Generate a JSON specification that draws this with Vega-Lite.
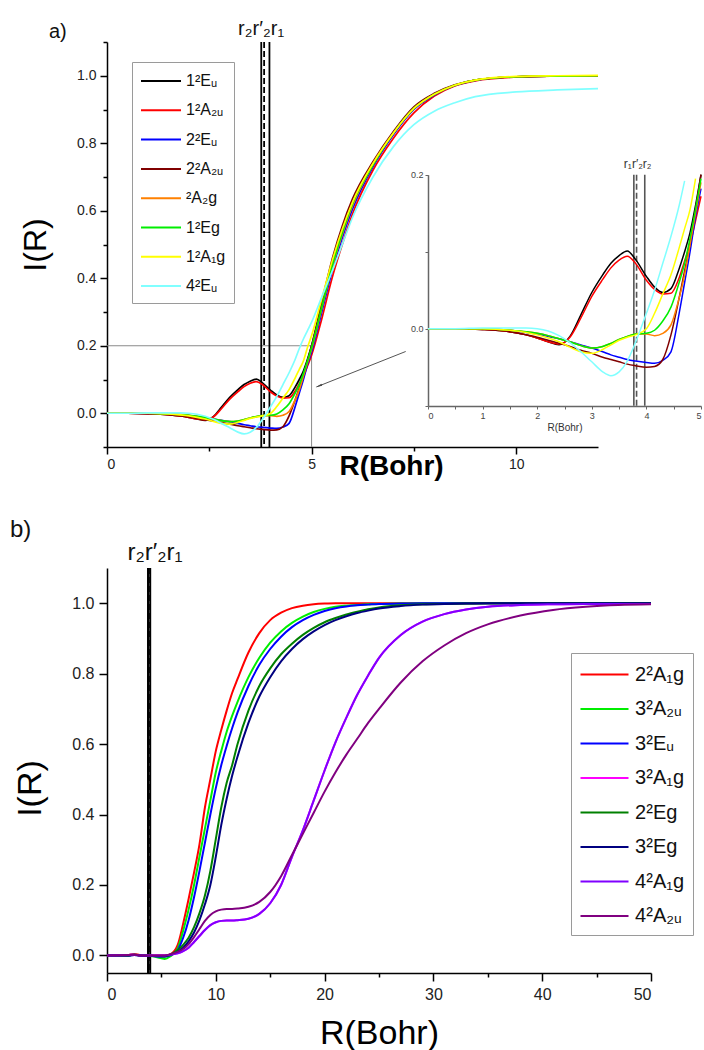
{
  "$schema": "https://vega.github.io/schema/vega-lite/v6.json",
  "padding": {"left": 10, "top": 19, "right": 0, "bottom": 0},
  "background": "white",
  "config": {
    "font": "Liberation Sans",
    "view": {"stroke": null},
    "axis": {"grid": false, "domainColor": "#000", "tickColor": "#000", "labelColor": "#222", "titleColor": "#111", "titleFontWeight": "normal", "labelFont": "Liberation Sans", "titleFont": "Liberation Sans", "domainWidth": 1.5, "tickWidth": 1.5, "labelOverlap": false},
    "title": {"fontWeight": "normal", "color": "#111", "font": "Liberation Sans"},
    "concat": {"spacing": 38}
  },
  "datasets": {
    "a": [
      {"R":0,"E1u":0,"A2u":0,"E2u":0,"B2u":0,"A2g":0,"E1g":0,"A1g":0,"E4u":0},
      {"R":0.5,"E1u":0,"A2u":0,"E2u":0,"B2u":0,"A2g":0,"E1g":0,"A1g":0,"E4u":0},
      {"R":1,"E1u":-0.001,"A2u":-0.001,"E2u":0,"B2u":-0.001,"A2g":0,"E1g":0,"A1g":0,"E4u":0.001},
      {"R":1.5,"E1u":-0.004,"A2u":-0.004,"E2u":-0.002,"B2u":-0.004,"A2g":-0.002,"E1g":-0.002,"A1g":-0.002,"E4u":0.001},
      {"R":1.8,"E1u":-0.008,"A2u":-0.008,"E2u":-0.005,"B2u":-0.008,"A2g":-0.004,"E1g":-0.004,"A1g":-0.005,"E4u":0.001},
      {"R":2,"E1u":-0.012,"A2u":-0.012,"E2u":-0.007,"B2u":-0.011,"A2g":-0.006,"E1g":-0.006,"A1g":-0.008,"E4u":0},
      {"R":2.2,"E1u":-0.017,"A2u":-0.017,"E2u":-0.01,"B2u":-0.015,"A2g":-0.009,"E1g":-0.009,"A1g":-0.012,"E4u":-0.003},
      {"R":2.4,"E1u":-0.021,"A2u":-0.02,"E2u":-0.013,"B2u":-0.019,"A2g":-0.013,"E1g":-0.013,"A1g":-0.017,"E4u":-0.009},
      {"R":2.6,"E1u":-0.01,"A2u":-0.011,"E2u":-0.017,"B2u":-0.023,"A2g":-0.017,"E1g":-0.017,"A1g":-0.024,"E4u":-0.018},
      {"R":2.8,"E1u":0.018,"A2u":0.014,"E2u":-0.021,"B2u":-0.028,"A2g":-0.022,"E1g":-0.022,"A1g":-0.03,"E4u":-0.03},
      {"R":3,"E1u":0.047,"A2u":0.042,"E2u":-0.025,"B2u":-0.032,"A2g":-0.025,"E1g":-0.025,"A1g":-0.032,"E4u":-0.043},
      {"R":3.2,"E1u":0.07,"A2u":0.064,"E2u":-0.03,"B2u":-0.037,"A2g":-0.023,"E1g":-0.023,"A1g":-0.027,"E4u":-0.056},
      {"R":3.35,"E1u":0.085,"A2u":0.079,"E2u":-0.034,"B2u":-0.04,"A2g":-0.019,"E1g":-0.019,"A1g":-0.021,"E4u":-0.061},
      {"R":3.5,"E1u":0.095,"A2u":0.089,"E2u":-0.037,"B2u":-0.043,"A2g":-0.014,"E1g":-0.014,"A1g":-0.015,"E4u":-0.056},
      {"R":3.65,"E1u":0.101,"A2u":0.094,"E2u":-0.04,"B2u":-0.046,"A2g":-0.01,"E1g":-0.01,"A1g":-0.011,"E4u":-0.042},
      {"R":3.8,"E1u":0.09,"A2u":0.085,"E2u":-0.042,"B2u":-0.048,"A2g":-0.007,"E1g":-0.007,"A1g":-0.008,"E4u":-0.018},
      {"R":4,"E1u":0.068,"A2u":0.063,"E2u":-0.044,"B2u":-0.05,"A2g":-0.007,"E1g":-0.006,"A1g":0,"E4u":0.02},
      {"R":4.15,"E1u":0.054,"A2u":0.051,"E2u":-0.045,"B2u":-0.049,"A2g":-0.009,"E1g":-0.002,"A1g":0.02,"E4u":0.05},
      {"R":4.3,"E1u":0.047,"A2u":0.045,"E2u":-0.041,"B2u":-0.04,"A2g":-0.006,"E1g":0.01,"A1g":0.045,"E4u":0.085},
      {"R":4.45,"E1u":0.052,"A2u":0.046,"E2u":-0.03,"B2u":-0.008,"A2g":0.005,"E1g":0.028,"A1g":0.07,"E4u":0.12},
      {"R":4.6,"E1u":0.078,"A2u":0.066,"E2u":0.02,"B2u":0.04,"A2g":0.04,"E1g":0.06,"A1g":0.105,"E4u":0.16},
      {"R":4.7,"E1u":0.1,"A2u":0.088,"E2u":0.06,"B2u":0.075,"A2g":0.07,"E1g":0.085,"A1g":0.13,"E4u":0.192},
      {"R":4.8,"E1u":0.125,"A2u":0.11,"E2u":0.1,"B2u":0.11,"A2g":0.11,"E1g":0.118,"A1g":0.155,"E4u":0.22},
      {"R":4.9,"E1u":0.16,"A2u":0.14,"E2u":0.145,"B2u":0.155,"A2g":0.15,"E1g":0.155,"A1g":0.195,"E4u":0.245},
      {"R":5,"E1u":0.2,"A2u":0.172,"E2u":0.182,"B2u":0.2,"A2g":0.19,"E1g":0.195,"A1g":0.23,"E4u":0.27},
      {"R":5.25,"E1u":0.32,"A2u":0.28,"E2u":0.3,"B2u":0.33,"A2g":0.31,"E1g":0.315,"A1g":0.34,"E4u":0.345},
      {"R":5.5,"E1u":0.44,"A2u":0.4,"E2u":0.42,"B2u":0.455,"A2g":0.43,"E1g":0.435,"A1g":0.45,"E4u":0.42},
      {"R":5.75,"E1u":0.54,"A2u":0.5,"E2u":0.52,"B2u":0.555,"A2g":0.53,"E1g":0.535,"A1g":0.545,"E4u":0.5},
      {"R":6,"E1u":0.62,"A2u":0.59,"E2u":0.605,"B2u":0.635,"A2g":0.615,"E1g":0.62,"A1g":0.625,"E4u":0.58},
      {"R":6.5,"E1u":0.735,"A2u":0.72,"E2u":0.73,"B2u":0.745,"A2g":0.735,"E1g":0.735,"A1g":0.74,"E4u":0.7},
      {"R":7,"E1u":0.83,"A2u":0.815,"E2u":0.825,"B2u":0.835,"A2g":0.83,"E1g":0.83,"A1g":0.83,"E4u":0.79},
      {"R":7.5,"E1u":0.905,"A2u":0.89,"E2u":0.9,"B2u":0.908,"A2g":0.903,"E1g":0.903,"A1g":0.903,"E4u":0.855},
      {"R":8,"E1u":0.945,"A2u":0.94,"E2u":0.943,"B2u":0.948,"A2g":0.945,"E1g":0.945,"A1g":0.945,"E4u":0.895},
      {"R":8.5,"E1u":0.972,"A2u":0.97,"E2u":0.971,"B2u":0.973,"A2g":0.972,"E1g":0.972,"A1g":0.972,"E4u":0.92},
      {"R":9,"E1u":0.987,"A2u":0.985,"E2u":0.986,"B2u":0.987,"A2g":0.987,"E1g":0.987,"A1g":0.987,"E4u":0.938},
      {"R":10,"E1u":0.997,"A2u":0.996,"E2u":0.997,"B2u":0.997,"A2g":0.997,"E1g":0.997,"A1g":0.998,"E4u":0.952},
      {"R":11,"E1u":0.999,"A2u":0.999,"E2u":0.999,"B2u":0.999,"A2g":0.999,"E1g":0.999,"A1g":1.0,"E4u":0.958},
      {"R":12,"E1u":1.0,"A2u":1.0,"E2u":1.0,"B2u":1.0,"A2g":1.0,"E1g":1.0,"A1g":1.001,"E4u":0.962}
    ],
    "b": [
      {"R":0,"A1g2":0,"A2u3":0,"Eu3":0,"A1g3":0,"Eg2":0,"Eg3":0,"A1g4":0,"A2u4":0},
      {"R":2,"A1g2":0.001,"A2u3":0,"Eu3":0,"A1g3":0.001,"Eg2":0,"Eg3":0,"A1g4":0.001,"A2u4":0.001},
      {"R":2.5,"A1g2":0.004,"A2u3":0.002,"Eu3":0.001,"A1g3":0.002,"Eg2":0.002,"Eg3":0.001,"A1g4":0.002,"A2u4":0.002},
      {"R":3,"A1g2":0.001,"A2u3":0,"Eu3":0,"A1g3":0,"Eg2":0,"Eg3":0,"A1g4":0,"A2u4":0},
      {"R":4,"A1g2":-0.001,"A2u3":-0.002,"Eu3":-0.001,"A1g3":0,"Eg2":-0.001,"Eg3":-0.001,"A1g4":0,"A2u4":0},
      {"R":5,"A1g2":0,"A2u3":-0.008,"Eu3":-0.004,"A1g3":0,"Eg2":-0.003,"Eg3":-0.002,"A1g4":0,"A2u4":0},
      {"R":5.3,"A1g2":0,"A2u3":-0.01,"Eu3":-0.004,"A1g3":0,"Eg2":-0.003,"Eg3":-0.002,"A1g4":0,"A2u4":0},
      {"R":5.8,"A1g2":0.003,"A2u3":-0.003,"Eu3":0,"A1g3":0.002,"Eg2":0.002,"Eg3":0.001,"A1g4":0.002,"A2u4":0.003},
      {"R":6.5,"A1g2":0.03,"A2u3":0.02,"Eu3":0.015,"A1g3":0.006,"Eg2":0.015,"Eg3":0.01,"A1g4":0.006,"A2u4":0.01},
      {"R":7,"A1g2":0.09,"A2u3":0.07,"Eu3":0.05,"A1g3":0.012,"Eg2":0.03,"Eg3":0.022,"A1g4":0.012,"A2u4":0.018},
      {"R":7.5,"A1g2":0.16,"A2u3":0.13,"Eu3":0.1,"A1g3":0.022,"Eg2":0.05,"Eg3":0.04,"A1g4":0.022,"A2u4":0.032},
      {"R":8,"A1g2":0.235,"A2u3":0.2,"Eu3":0.165,"A1g3":0.038,"Eg2":0.08,"Eg3":0.065,"A1g4":0.038,"A2u4":0.052},
      {"R":8.5,"A1g2":0.315,"A2u3":0.28,"Eu3":0.24,"A1g3":0.055,"Eg2":0.12,"Eg3":0.1,"A1g4":0.055,"A2u4":0.075},
      {"R":9,"A1g2":0.42,"A2u3":0.36,"Eu3":0.32,"A1g3":0.072,"Eg2":0.17,"Eg3":0.145,"A1g4":0.072,"A2u4":0.098},
      {"R":9.5,"A1g2":0.5,"A2u3":0.44,"Eu3":0.4,"A1g3":0.086,"Eg2":0.24,"Eg3":0.2,"A1g4":0.086,"A2u4":0.115},
      {"R":10,"A1g2":0.58,"A2u3":0.52,"Eu3":0.475,"A1g3":0.094,"Eg2":0.33,"Eg3":0.28,"A1g4":0.094,"A2u4":0.125},
      {"R":10.5,"A1g2":0.64,"A2u3":0.58,"Eu3":0.54,"A1g3":0.098,"Eg2":0.42,"Eg3":0.37,"A1g4":0.098,"A2u4":0.13},
      {"R":11,"A1g2":0.695,"A2u3":0.635,"Eu3":0.595,"A1g3":0.099,"Eg2":0.49,"Eg3":0.445,"A1g4":0.099,"A2u4":0.132},
      {"R":11.5,"A1g2":0.745,"A2u3":0.68,"Eu3":0.645,"A1g3":0.099,"Eg2":0.54,"Eg3":0.51,"A1g4":0.099,"A2u4":0.132},
      {"R":12,"A1g2":0.785,"A2u3":0.72,"Eu3":0.69,"A1g3":0.1,"Eg2":0.6,"Eg3":0.565,"A1g4":0.1,"A2u4":0.133},
      {"R":13,"A1g2":0.86,"A2u3":0.79,"Eu3":0.765,"A1g3":0.104,"Eg2":0.695,"Eg3":0.66,"A1g4":0.104,"A2u4":0.138},
      {"R":14,"A1g2":0.915,"A2u3":0.845,"Eu3":0.825,"A1g3":0.118,"Eg2":0.765,"Eg3":0.735,"A1g4":0.118,"A2u4":0.152},
      {"R":15,"A1g2":0.952,"A2u3":0.888,"Eu3":0.87,"A1g3":0.148,"Eg2":0.815,"Eg3":0.79,"A1g4":0.148,"A2u4":0.18},
      {"R":16,"A1g2":0.973,"A2u3":0.92,"Eu3":0.905,"A1g3":0.2,"Eg2":0.855,"Eg3":0.835,"A1g4":0.2,"A2u4":0.225},
      {"R":17,"A1g2":0.986,"A2u3":0.944,"Eu3":0.932,"A1g3":0.28,"Eg2":0.885,"Eg3":0.87,"A1g4":0.28,"A2u4":0.285},
      {"R":18,"A1g2":0.993,"A2u3":0.962,"Eu3":0.952,"A1g3":0.355,"Eg2":0.91,"Eg3":0.898,"A1g4":0.355,"A2u4":0.345},
      {"R":19,"A1g2":0.997,"A2u3":0.975,"Eu3":0.967,"A1g3":0.44,"Eg2":0.93,"Eg3":0.92,"A1g4":0.44,"A2u4":0.405},
      {"R":20,"A1g2":0.999,"A2u3":0.984,"Eu3":0.978,"A1g3":0.525,"Eg2":0.946,"Eg3":0.938,"A1g4":0.525,"A2u4":0.465},
      {"R":21,"A1g2":1.0,"A2u3":0.99,"Eu3":0.986,"A1g3":0.605,"Eg2":0.958,"Eg3":0.952,"A1g4":0.605,"A2u4":0.52},
      {"R":22,"A1g2":1.0,"A2u3":0.993,"Eu3":0.991,"A1g3":0.675,"Eg2":0.968,"Eg3":0.963,"A1g4":0.675,"A2u4":0.57},
      {"R":23,"A1g2":1.0,"A2u3":0.995,"Eu3":0.994,"A1g3":0.74,"Eg2":0.976,"Eg3":0.972,"A1g4":0.74,"A2u4":0.615},
      {"R":24,"A1g2":1.0,"A2u3":0.997,"Eu3":0.996,"A1g3":0.795,"Eg2":0.983,"Eg3":0.979,"A1g4":0.795,"A2u4":0.66},
      {"R":25,"A1g2":1.0,"A2u3":0.998,"Eu3":0.998,"A1g3":0.845,"Eg2":0.988,"Eg3":0.985,"A1g4":0.845,"A2u4":0.7},
      {"R":27,"A1g2":1.0,"A2u3":0.999,"Eu3":0.999,"A1g3":0.91,"Eg2":0.994,"Eg3":0.992,"A1g4":0.91,"A2u4":0.775},
      {"R":29,"A1g2":1.0,"A2u3":1.0,"Eu3":1.0,"A1g3":0.948,"Eg2":0.997,"Eg3":0.996,"A1g4":0.948,"A2u4":0.835},
      {"R":31,"A1g2":1.0,"A2u3":1.0,"Eu3":1.0,"A1g3":0.969,"Eg2":0.998,"Eg3":0.998,"A1g4":0.969,"A2u4":0.88},
      {"R":33,"A1g2":1.0,"A2u3":1.0,"Eu3":1.0,"A1g3":0.982,"Eg2":0.999,"Eg3":0.999,"A1g4":0.982,"A2u4":0.915},
      {"R":35,"A1g2":1.0,"A2u3":1.0,"Eu3":1.0,"A1g3":0.99,"Eg2":1.0,"Eg3":1.0,"A1g4":0.99,"A2u4":0.94},
      {"R":38,"A1g2":1.0,"A2u3":1.0,"Eu3":1.0,"A1g3":0.995,"Eg2":1.0,"Eg3":1.0,"A1g4":0.995,"A2u4":0.965},
      {"R":41,"A1g2":1.0,"A2u3":1.0,"Eu3":1.0,"A1g3":0.997,"Eg2":1.0,"Eg3":1.0,"A1g4":0.997,"A2u4":0.981},
      {"R":44,"A1g2":1.0,"A2u3":1.0,"Eu3":1.0,"A1g3":0.998,"Eg2":1.0,"Eg3":1.0,"A1g4":0.998,"A2u4":0.99},
      {"R":47,"A1g2":1.0,"A2u3":1.0,"Eu3":1.0,"A1g3":0.998,"Eg2":1.0,"Eg3":1.0,"A1g4":0.998,"A2u4":0.995},
      {"R":50,"A1g2":1.0,"A2u3":1.0,"Eu3":1.0,"A1g3":0.998,"Eg2":1.0,"Eg3":1.0,"A1g4":0.998,"A2u4":0.997}
    ],
    "rlines": [
      {"line": "r2", "R": 3.77},
      {"line": "r2p", "R": 3.84},
      {"line": "r1", "R": 3.97}
    ],
    "rlinesInset": [
      {"line": "r1", "R": 3.77},
      {"line": "r2p", "R": 3.82},
      {"line": "r2", "R": 3.97}
    ]
  },
  "vconcat": [
    {
      "width": 491,
      "height": 405,
      "title": {"text": "a)", "anchor": "start", "frame": "group", "fontSize": 20, "dx": -58, "offset": 0, "dy": 23},
      "layer": [
        {
          "layer": [
            {
              "data": {"values": [{}]},
              "mark": {"type": "rule", "color": "#8a8a8a", "strokeWidth": 1},
              "encoding": {"x": {"datum": 0}, "x2": {"datum": 5},
                "y": {"datum": 0.2, "type": "quantitative", "axis": {"orient": "left", "values": [-0.1, 0.1, 0.3, 0.5, 0.7, 0.9, 1.1], "labels": false, "domain": false, "tickSize": 4, "title": null}}}
            },
            {
              "data": {"values": [{}]},
              "mark": {"type": "rule", "color": "#8a8a8a", "strokeWidth": 1},
              "encoding": {"x": {"datum": 5}, "y": {"datum": -0.1, "type": "quantitative", "axis": null}, "y2": {"datum": 0.2}}
            },
            {
              "data": {"values": [{}]},
              "mark": {"type": "rule", "color": "#555", "strokeWidth": 1},
              "encoding": {"x": {"datum": 7.3}, "x2": {"datum": 5.12}, "y": {"datum": 0.183, "type": "quantitative", "axis": null}, "y2": {"datum": 0.078}}
            },
            {
              "data": {"values": [{}]},
              "mark": {"type": "point", "shape": "wedge", "filled": true, "color": "#444", "size": 60, "angle": 248, "opacity": 1},
              "encoding": {"x": {"datum": 5.2}, "y": {"datum": 0.082, "type": "quantitative", "axis": null}}
            },
            {
              "data": {"name": "rlines"},
              "mark": {"type": "rule", "color": "#000", "strokeWidth": 1.8},
              "encoding": {
                "x": {"field": "R", "type": "quantitative"},
                "strokeDash": {"field": "line", "type": "nominal", "scale": {"domain": ["r2", "r2p", "r1"], "range": [[1, 0], [6, 3], [1, 0]]}, "legend": null}
              }
            },
            {
              "data": {"values": [{"label": "r₂r′₂r₁", "R": 3.84}]},
              "mark": {"type": "text", "baseline": "bottom", "align": "center", "fontSize": 20, "dy": -3, "dx": -3, "color": "#111"},
              "encoding": {"x": {"field": "R", "type": "quantitative"}, "y": {"datum": 1.1, "type": "quantitative", "axis": null}, "text": {"field": "label"}}
            },
            {
              "data": {"name": "a"},
              "transform": [{"fold": ["E1u", "A2u", "E2u", "B2u", "A2g", "E1g", "A1g", "E4u"], "as": ["state", "I"]}],
              "mark": {"type": "line", "strokeWidth": 1.7, "interpolate": "monotone"},
              "encoding": {
                "x": {"field": "R", "type": "quantitative", "scale": {"domain": [0, 12], "nice": false, "zero": false},
                  "axis": {"orient": "bottom", "title": "R(Bohr)", "titleFontSize": 28, "titleFontWeight": "bold", "titleX": 284, "titleY": 27, "titleBaseline": "alphabetic", "titleColor": "#000",
                    "values": [0, 2.5, 5, 7.5, 10], "format": "~g", "labelExpr": "datum.value % 5 === 0 ? datum.label : ''",
                    "tickSize": {"condition": {"test": "datum.value % 5 === 0", "value": 7}, "value": 4},
                    "labelFontSize": 14, "labelPadding": 3}},
                "y": {"field": "I", "type": "quantitative", "scale": {"domain": [-0.1, 1.1], "nice": false, "zero": false},
                  "axis": {"orient": "left", "title": "I(R)", "titleFontSize": 32, "titlePadding": 24, "titleColor": "#000",
                    "values": [0, 0.2, 0.4, 0.6, 0.8, 1.0], "format": ".1f",
                    "tickSize": 7,
                    "labelFontSize": 14, "labelPadding": 4}},
                "color": {"field": "state", "type": "nominal",
                  "scale": {"domain": ["E1u", "A2u", "E2u", "B2u", "A2g", "E1g", "A1g", "E4u"], "range": ["#000000", "#ff0000", "#0000ff", "#800000", "#ff8000", "#00ee00", "#ffff00", "#80ffff"]},
                  "legend": {"orient": "none", "legendX": 25, "legendY": 20, "title": null, "symbolType": "M-1,0H3", "symbolSize": 400, "symbolStrokeWidth": 2, "symbolFillColor": "transparent",
                    "labelFontSize": 16, "labelColor": "#111", "labelFont": "Liberation Sans", "strokeColor": "#9a9a9a", "fillColor": "white", "padding": 8, "rowPadding": 10.3, "labelOffset": 24,
                    "labelExpr": "({'E1u':'1²Eᵤ','A2u':'1²A₂ᵤ','E2u':'2²Eᵤ','B2u':'2²A₂ᵤ','A2g':'²A₂g','E1g':'1²Eg','A1g':'1²A₁g','E4u':'4²Eᵤ'})[datum.value]"}}
              }
            }
          ],
          "resolve": {"axis": {"y": "independent"}}
        },
        {
          "layer": [
            {
              "data": {"name": "rlinesInset"},
              "mark": {"type": "rule", "color": "#555", "strokeWidth": 1.6},
              "encoding": {
                "x": {"field": "R", "type": "quantitative"},
                "y": {"datum": -0.1},
                "y2": {"datum": 0.2},
                "strokeDash": {"field": "line", "type": "nominal", "scale": {"domain": ["r2", "r2p", "r1"], "range": [[1, 0], [6, 3], [1, 0]]}, "legend": null}
              }
            },
            {
              "data": {"values": [{"label": "r₁r′₂r₂", "R": 3.84}]},
              "mark": {"type": "text", "baseline": "bottom", "align": "center", "fontSize": 12, "dy": -4, "color": "#333"},
              "encoding": {"x": {"field": "R", "type": "quantitative"}, "y": {"datum": 0.2}, "text": {"field": "label"}}
            },
            {
              "data": {"name": "a"},
              "transform": [
                {"fold": ["E1u", "A2u", "E2u", "B2u", "A2g", "E1g", "A1g", "E4u"], "as": ["state", "I"]},
                {"filter": "datum.R <= 5 && datum.I <= 0.2"}
              ],
              "mark": {"type": "line", "strokeWidth": 1.5, "interpolate": "monotone"},
              "encoding": {
                "x": {"field": "R", "type": "quantitative", "scale": {"domain": [0, 5], "range": [321, 594], "nice": false, "zero": false},
                  "axis": {"orient": "bottom", "offset": -41, "title": "R(Bohr)", "titleFontSize": 10, "titlePadding": 2, "titleColor": "#333",
                    "values": [0, 0.5, 1, 1.5, 2, 2.5, 3, 3.5, 4, 4.5, 5], "format": "~g", "labelExpr": "datum.value % 1 === 0 ? datum.label : ''",
                    "tickSize": 3, "labelFontSize": 9, "labelPadding": 2, "labelColor": "#444", "domainColor": "#666", "tickColor": "#666", "tickWidth": 1}},
                "y": {"field": "I", "type": "quantitative", "scale": {"domain": [-0.1, 0.2], "range": [363.7, 132.7], "nice": false, "zero": false},
                  "axis": {"orient": "left", "offset": -321, "title": null, "values": [-0.1, 0, 0.1, 0.2], "format": ".1f",
                    "labelExpr": "abs(datum.value*5 - round(datum.value*5)) < 0.001 ? datum.label : ''",
                    "tickSize": 3, "labelFontSize": 9, "labelPadding": 2, "labelColor": "#444", "domainColor": "#666", "tickColor": "#666", "tickWidth": 1}},
                "color": {"field": "state", "type": "nominal"}
              }
            }
          ]
        }
      ],
      "resolve": {"scale": {"x": "independent", "y": "independent"}}
    },
    {
      "width": 544,
      "height": 405,
      "title": {"text": "b)", "anchor": "start", "frame": "group", "fontSize": 24, "dx": -97, "offset": 0, "dy": 1},
      "layer": [
        {
          "data": {"name": "rlines"},
          "mark": {"type": "rule", "color": "#000", "strokeWidth": 2},
          "encoding": {
            "x": {"field": "R", "type": "quantitative"},
            "strokeDash": {"field": "line", "type": "nominal", "scale": {"domain": ["r2", "r2p", "r1"], "range": [[1, 0], [6, 3], [1, 0]]}, "legend": null}
          }
        },
        {
          "data": {"values": [{"label": "r₂r′₂r₁", "R": 3.86}]},
          "mark": {"type": "text", "baseline": "bottom", "align": "center", "fontSize": 24, "dy": -3, "dx": 6, "color": "#111"},
          "encoding": {"x": {"field": "R", "type": "quantitative"}, "y": {"datum": 1.1}, "text": {"field": "label"}}
        },
        {
          "data": {"name": "b"},
          "transform": [{"fold": ["A1g2", "A2u3", "Eu3", "A1g3", "Eg2", "Eg3", "A1g4", "A2u4"], "as": ["state", "I"]}],
          "mark": {"type": "line", "strokeWidth": 2, "interpolate": "monotone"},
          "encoding": {
            "x": {"field": "R", "type": "quantitative", "scale": {"domain": [0, 50], "nice": false, "zero": false},
              "axis": {"title": "R(Bohr)", "titleFontSize": 34, "titlePadding": 14, "titleColor": "#000",
                "values": [0, 5, 10, 15, 20, 25, 30, 35, 40, 45, 50], "format": "~g", "labelExpr": "datum.value % 10 === 0 ? datum.label : ''",
                "tickSize": {"condition": {"test": "datum.value % 10 === 0", "value": 8}, "value": 4},
                "labelFontSize": 16, "labelPadding": 5}},
            "y": {"field": "I", "type": "quantitative", "scale": {"domain": [-0.05, 1.1], "nice": false, "zero": false},
              "axis": {"title": "I(R)", "titleFontSize": 34, "titlePadding": 24, "titleColor": "#000", "titleY": 220,
                "values": [0, 0.1, 0.2, 0.3, 0.4, 0.5, 0.6, 0.7, 0.8, 0.9, 1.0, 1.1], "format": ".1f",
                "labelExpr": "abs(datum.value*5 - round(datum.value*5)) < 0.001 ? datum.label : ''",
                "tickSize": {"condition": {"test": "abs(datum.value*5 - round(datum.value*5)) < 0.001", "value": 8}, "value": 4},
                "labelFontSize": 16, "labelPadding": 5}},
            "color": {"field": "state", "type": "nominal",
              "scale": {"domain": ["A1g2", "A2u3", "Eu3", "A1g3", "Eg2", "Eg3", "A1g4", "A2u4"], "range": ["#ff0000", "#00ee00", "#0000ff", "#ff00ff", "#008000", "#000080", "#8000ff", "#800080"]},
              "legend": {"orient": "none", "legendX": 464, "legendY": 85, "title": null, "symbolType": "M-1,0H3", "symbolSize": 576, "symbolStrokeWidth": 2, "symbolFillColor": "transparent",
                "labelFontSize": 20, "labelColor": "#111", "labelFont": "Liberation Sans", "strokeColor": "#9a9a9a", "fillColor": "white", "padding": 8.5, "rowPadding": 11.5, "labelOffset": 29.6,
                "labelExpr": "({'A1g2':'2²A₁g','A2u3':'3²A₂ᵤ','Eu3':'3²Eᵤ','A1g3':'3²A₁g','Eg2':'2²Eg','Eg3':'3²Eg','A1g4':'4²A₁g','A2u4':'4²A₂ᵤ'})[datum.value]"}}
          }
        }
      ]
    }
  ],
  "resolve": {"scale": {"color": "independent", "strokeDash": "independent"}, "legend": {"color": "independent"}}
}
